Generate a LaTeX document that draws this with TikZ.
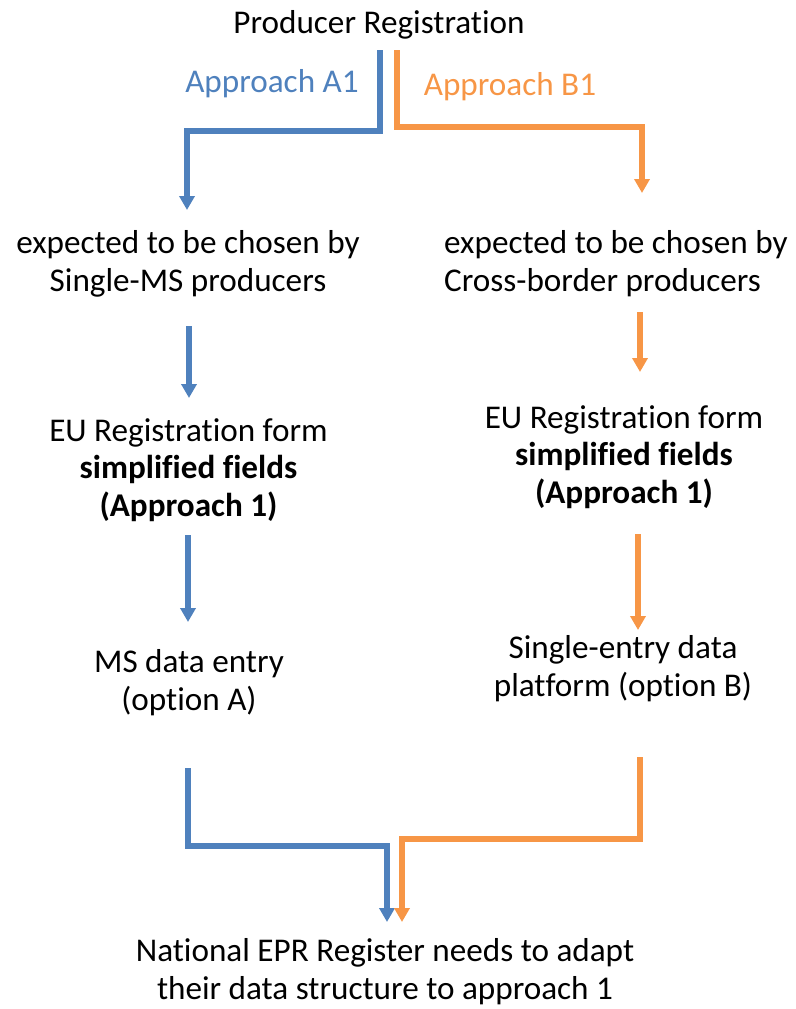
\documentclass[tikz,border=0pt]{standalone}
\usepackage{fontspec}
\setmainfont{Carlito}[Ligatures=NoCommon]
\usetikzlibrary{arrows.meta}
\definecolor{cblue}{HTML}{4F81BD}
\definecolor{corange}{HTML}{F79646}
\tikzset{
  txt/.style={align=center, inner sep=0pt, anchor=base, font=\fontsize{33.3}{37.5}\selectfont},
  conn/.style={line width=5.5bp, -{Triangle[width=15bp,length=14bp]}},
  bl/.style={conn, color=cblue},
  og/.style={conn, color=corange}
}
\begin{document}
\begin{tikzpicture}[x=1bp,y=-1bp]
\useasboundingbox (0,0) rectangle (796,1009);
% texts (placed at last-line baseline)
\node[txt] (prod) at (379,33) {Producer Registration};
\node[txt, text=cblue] (labA) at (272,92) {Approach A1};
\node[txt, text=corange] (labB) at (510,95) {Approach B1};
\node[txt] (expA) at (188,291) {expected to be chosen by\\Single-MS producers};
\node[txt, align=left, anchor=base west] (expB) at (444,291) {expected to be chosen by\\Cross-border producers};
\node[txt] (euA) at (188.5,516) {EU Registration form\\\textbf{simplified fields}\\\textbf{(Approach 1)}};
\node[txt] (euB) at (624,503) {EU Registration form\\\textbf{simplified fields}\\\textbf{(Approach 1)}};
\node[txt] (msA) at (189,710) {MS data entry\\(option A)};
\node[txt] (seB) at (623,696) {Single-entry data\\platform (option B)};
\node[txt] (nat) at (385,999) {National EPR Register needs to adapt\\their data structure to approach 1};
% connector ends
\coordinate (a0) at (380,50);   \coordinate (a1) at (187,210);
\coordinate (b0) at (397,50);   \coordinate (b1) at (642,193);
\coordinate (a2s) at (189,326); \coordinate (a2e) at (189,398);
\coordinate (a3s) at (188,535); \coordinate (a3e) at (188,622);
\coordinate (b2s) at (640,312); \coordinate (b2e) at (640,372);
\coordinate (b3s) at (638,534); \coordinate (b3e) at (638,630);
\coordinate (a4s) at (188,768); \coordinate (a4e) at (387,922);
\coordinate (b4s) at (640,757); \coordinate (b4e) at (402,922);
% connectors
\draw[bl] (a0) -- ++(0,81) -| (a1);
\draw[og] (b0) -- ++(0,77) -| (b1);
\draw[bl] (a2s) -- (a2e);
\draw[bl] (a3s) -- (a3e);
\draw[og] (b2s) -- (b2e);
\draw[og] (b3s) -- (b3e);
\draw[bl] (a4s) -- ++(0,78) -| (a4e);
\draw[og] (b4s) -- ++(0,82) -| (b4e);
\end{tikzpicture}
\end{document}
